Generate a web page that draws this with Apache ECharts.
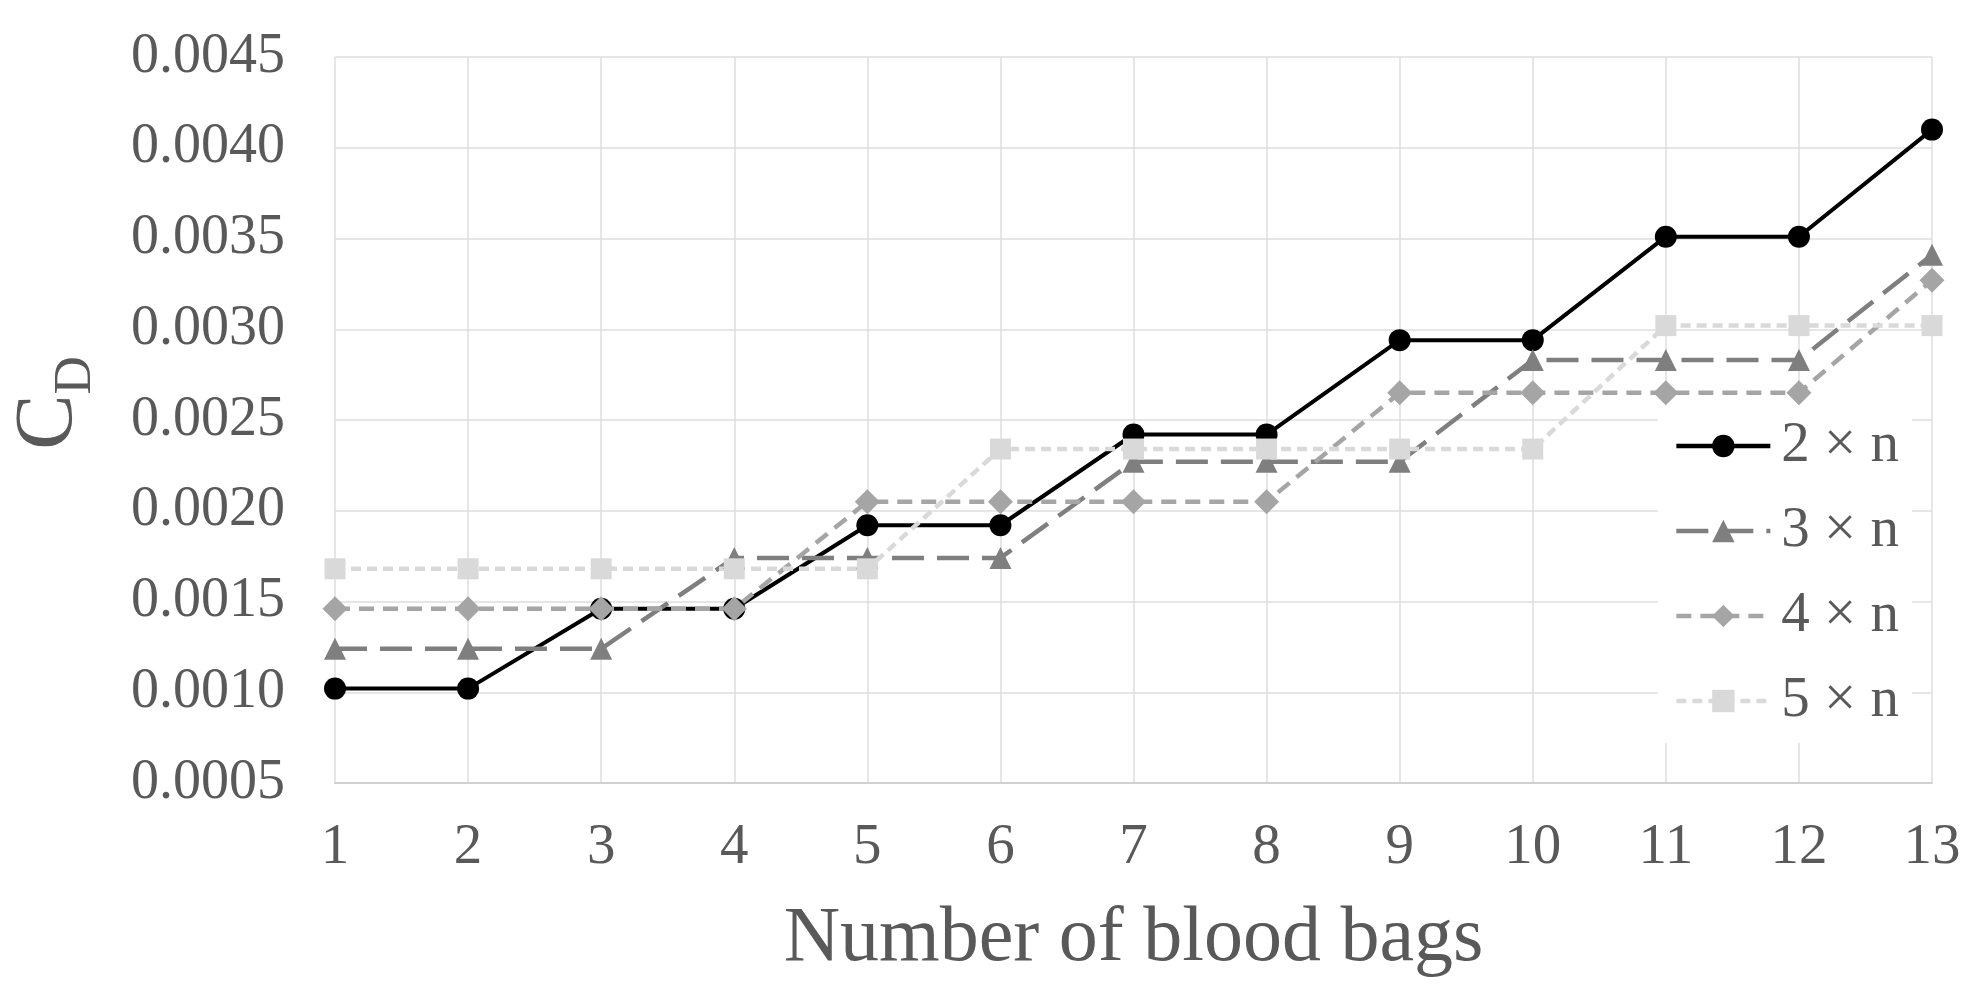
<!DOCTYPE html>
<html>
<head>
<meta charset="utf-8">
<script src="https://cdn.jsdelivr.net/npm/echarts@6/dist/echarts.min.js"></script>
<style>
html,body{margin:0;padding:0;background:#fff;}
#chart{width:1974px;height:992px;}
</style>
</head>
<body>
<div id="chart"></div>
<script>
const categories = ['1','2','3','4','5','6','7','8','9','10','11','12','13'];
const seriesNames = ['2 \u00d7 n','3 \u00d7 n','4 \u00d7 n','5 \u00d7 n'];
const s2n = [0.00102,0.00102,0.00146,0.00146,0.00192,0.00192,0.00242,0.00242,0.00294,0.00294,0.00351,0.00351,0.00410];
const s3n = [0.00124,0.00124,0.00124,0.00174,0.00174,0.00174,0.00227,0.00227,0.00227,0.00283,0.00283,0.00283,0.00341];
const s4n = [0.00146,0.00146,0.00146,0.00146,0.00205,0.00205,0.00205,0.00205,0.00265,0.00265,0.00265,0.00265,0.00327];
const s5n = [0.00168,0.00168,0.00168,0.00168,0.00168,0.00234,0.00234,0.00234,0.00234,0.00234,0.00302,0.00302,0.00302];
const yMin = 0.0005, yMax = 0.0045, yStep = 0.0005;

const FONT = 'Liberation Serif';
const TXT = '#595959';
const chart = echarts.init(document.getElementById('chart'));

function mk(name, data, color, type, symbol, size, width) {
  return {
    name: name, type: 'line', data: data,
    symbol: symbol, symbolSize: size,
    itemStyle: {color: color},
    lineStyle: {color: color, width: width, type: type},
    z: 2
  };
}

chart.setOption({
  animation: false,
  backgroundColor: '#fff',
  textStyle: {fontFamily: FONT},
  grid: {left: 313, right: 42, top: 57, bottom: 209},
  legend: {
    orient: 'vertical',
    right: 62, top: 405,
    backgroundColor: '#fff',
    padding: [10, 13, 11, 16],
    itemGap: 23,
    itemWidth: 94, itemHeight: 28,
    lineStyle: {width: 4.5},
    textStyle: {fontFamily: FONT, fontSize: 57, color: TXT, lineHeight: 62, padding: [0,0,0,6]},
    data: seriesNames
  },
  xAxis: {
    type: 'category',
    data: categories,
    boundaryGap: false,
    axisLine: {show: true, lineStyle: {color: '#d0d0d0', width: 2}},
    axisTick: {show: false},
    splitLine: {show: true, lineStyle: {color: '#dedede', width: 1.5}},
    axisLabel: {fontFamily: FONT, fontSize: 57, color: TXT, margin: 37},
    name: 'Number of blood bags',
    nameLocation: 'middle',
    nameGap: 118,
    nameTextStyle: {fontFamily: FONT, fontSize: 78, color: TXT}
  },
  yAxis: {
    type: 'value',
    min: yMin, max: yMax, interval: yStep,
    axisLine: {show: false},
    axisTick: {show: false},
    splitLine: {show: true, lineStyle: {color: '#dedede', width: 1.5}},
    axisLabel: {fontFamily: FONT, fontSize: 56, color: TXT, margin: 50,
      formatter: v => v.toFixed(4)},
    name: '{c|C}{d|D}',
    nameLocation: 'middle',
    nameGap: 232,
    nameRotate: 90,
    nameTextStyle: {
      fontFamily: FONT, color: TXT,
      rich: {
        c: {fontFamily: FONT, fontSize: 83, color: TXT, verticalAlign: 'bottom', lineHeight: 96, padding: [0,0,12,34]},
        d: {fontFamily: FONT, fontSize: 53, color: TXT, verticalAlign: 'bottom', lineHeight: 96}
      }
    }
  },
  series: [
    mk(seriesNames[0], s2n, '#000000', 'solid', 'circle', 22, 4),
    mk(seriesNames[1], s3n, '#7f7f7f', [32, 13], 'triangle', 22, 4.5),
    mk(seriesNames[2], s4n, '#a5a5a5', [15, 9], 'diamond', 25, 4.5),
    mk(seriesNames[3], s5n, '#d9d9d9', [10, 6], 'rect', 21, 4.5)
  ]
});
</script>
</body>
</html>
